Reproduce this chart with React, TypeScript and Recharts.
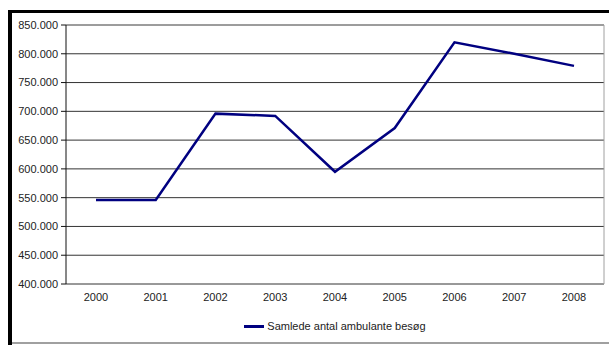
import {
  LineChart,
  Line,
  XAxis,
  YAxis,
  CartesianGrid,
  Legend,
  usePlotArea,
} from "recharts";

const years = ["2000", "2001", "2002", "2003", "2004", "2005", "2006", "2007", "2008"];
const visits = [546000, 546000, 696000, 692000, 595000, 671000, 820000, 800000, 779000];
const yTicks = [400000, 450000, 500000, 550000, 600000, 650000, 700000, 750000, 800000, 850000];
const boundaryTicks = [0, 1, 2, 3, 4, 5, 6, 7, 8, 9];
const seriesName = "Samlede antal ambulante besøg";

const data = years.map((year, i) => ({ year, visits: visits[i] }));

const font = "'Liberation Sans', Arial, sans-serif";
const tickStyle = { fontSize: 11, fill: "#222", fontFamily: font };

const fmt = (v: number) => v.toLocaleString("de-DE", { minimumFractionDigits: 0 }).replace(/,/g, ".");

// gray frame on top and right of the plot area
function PlotBorder() {
  const area = usePlotArea();
  if (!area) return null;
  const { x, y, width, height } = area;
  return (
    <g>
      <line x1={x} y1={y} x2={x + width} y2={y} stroke="#a0a0a0" strokeWidth={1} />
      <line x1={x + width} y1={y} x2={x + width} y2={y + height} stroke="#a0a0a0" strokeWidth={1} />
    </g>
  );
}

function LegendContent() {
  return (
    <div
      style={{
        height: 16,
        display: "flex",
        alignItems: "center",
        justifyContent: "center",
        fontFamily: font,
        fontSize: 11,
        color: "#222",
      }}
    >
      <span style={{ display: "inline-block", width: 20, height: 3, background: "#000080", marginRight: 3 }} />
      {seriesName}
    </div>
  );
}

export default function App() {
  return (
    <div style={{ position: "absolute", left: 0, top: 0, width: 609, height: 345, background: "#fff" }}>
      <div style={{ position: "absolute", left: 8, top: 10, width: 601, height: 3, background: "#000" }} />
      <div style={{ position: "absolute", left: 8, top: 10, width: 4, height: 335, background: "#000" }} />
      <div style={{ position: "absolute", left: 12, top: 342, width: 597, height: 2, background: "#a0a0a0" }} />
      <LineChart
        width={609}
        height={345}
        data={data}
        margin={{ top: 25, right: 5, left: 0, bottom: 11 }}
        style={{ position: "absolute", left: 0, top: 0 }}
      >
        <CartesianGrid horizontal vertical={false} stroke="#333" />
        <XAxis
          xAxisId="bounds"
          type="number"
          domain={[0, 9]}
          ticks={boundaryTicks}
          tick={false}
          tickSize={5}
          height={0}
          stroke="#555"
        />
        <XAxis
          xAxisId="cat"
          dataKey="year"
          height={34}
          axisLine={false}
          tickLine={false}
          tickSize={0}
          tickMargin={9}
          tick={tickStyle}
          interval={0}
          padding={{ left: 30, right: 30 }}
        />
        <YAxis
          width={66}
          domain={[400000, 850000]}
          ticks={yTicks}
          tickFormatter={fmt}
          tick={tickStyle}
          tickSize={5}
          tickMargin={3}
          stroke="#111"
          interval={0}
        />
        <PlotBorder />
        <Legend
          verticalAlign="bottom"
          content={<LegendContent />}
          wrapperStyle={{ left: 66, width: 538 }}
        />
        <Line
          xAxisId="cat"
          dataKey="visits"
          name={seriesName}
          stroke="#000080"
          strokeWidth={2.5}
          dot={false}
          isAnimationActive={false}
        />
      </LineChart>
    </div>
  );
}
